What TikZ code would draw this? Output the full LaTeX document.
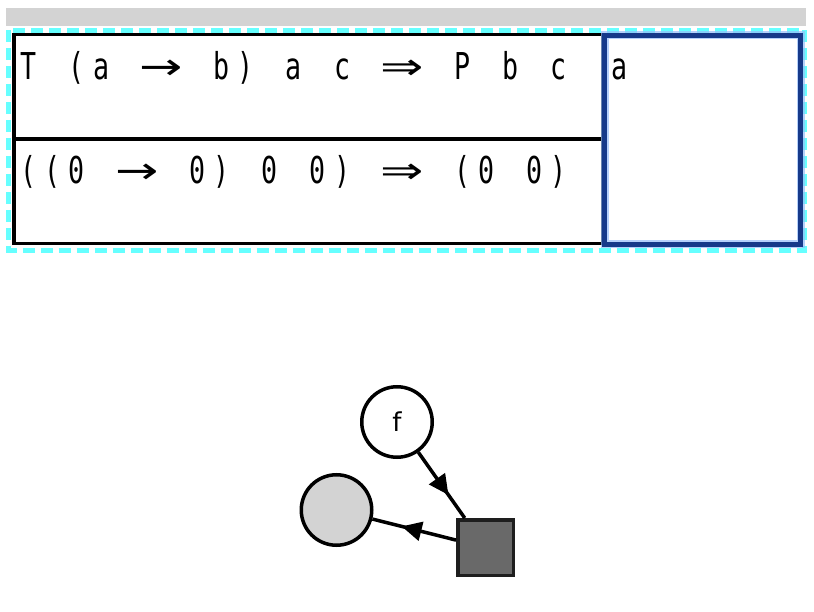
\documentclass[tikz,border=0pt]{standalone}
\usepackage{graphicx}
\usepackage{fontspec}
\setmainfont{DejaVu Sans}
\newfontfamily\monof{DejaVu Sans Mono}
\usetikzlibrary{arrows.meta,decorations.markings}
\definecolor{cyanl}{RGB}{102,255,255}
\definecolor{grayband}{RGB}{211,211,211}
\definecolor{blued}{RGB}{22,58,138}
\definecolor{bluel}{RGB}{150,190,250}
\definecolor{gcirc}{RGB}{211,211,211}
\definecolor{sqfill}{RGB}{105,105,105}
\definecolor{sqline}{RGB}{30,30,30}
\newlength\cw \setlength\cw{24.1pt}
\newcommand\cc[1]{\makebox[\cw][c]{\scalebox{0.72}[1]{#1}}}
\newcommand\ca[1]{\makebox[2\cw][c]{\scalebox{1.4}[1]{\rmfamily #1}}}
\tikzset{
  rowtxt/.style={inner sep=0pt, anchor=base west, font=\monof\fontsize{37}{44}\selectfont},
  circnode/.style={circle, draw=black, line width=3.5pt, minimum size=70.5pt, inner sep=0pt, fill=white, font=\fontsize{26}{30}\selectfont},
  sqnode/.style={rectangle, draw=sqline, line width=3.5pt, minimum size=55.5pt, inner sep=0pt, fill=sqfill},
  edge/.style={line width=3.5pt, draw=black, postaction={decorate},
    decoration={markings, mark=at position 0.65 with {\arrow{Triangle[length=20pt,width=19pt]}}}},
}
\begin{document}
\begin{tikzpicture}[x=1pt,y=-1pt]
\useasboundingbox (0,0) rectangle (814,612);
% top band
\fill[grayband] (6,8) rectangle (806,26);
% cyan dashed frame
\draw[cyanl, line width=5pt, dash pattern=on 12pt off 6pt] (8.5,30.5) rectangle (804.5,250.5);
% black table
\draw[line width=3.4pt] (14,34.8) rectangle (603,243.3);
\draw[line width=3.4pt] (14,139) -- (603,139);
% blue box
\draw[bluel, line width=8pt, opacity=0.7] (604.5,35.5) rectangle (800.5,244.5);
\draw[blued, line width=5pt] (604.5,35.5) rectangle (800.5,244.5);
% texts
\node[rowtxt] (r1) at (16.5,80) {\cc{T}\cc{}\cc{(}\cc{a}\cc{}\ca{→}\cc{}\cc{b}\cc{)}\cc{}\cc{a}\cc{}\cc{c}\cc{}\ca{⇒}\cc{}\cc{P}\cc{}\cc{b}\cc{}\cc{c}};
\node[rowtxt] (r2) at (16.5,184) {\cc{(}\cc{(}\cc{0}\cc{}\ca{→}\cc{}\cc{0}\cc{)}\cc{}\cc{0}\cc{}\cc{0}\cc{)}\cc{}\ca{⇒}\cc{}\cc{(}\cc{0}\cc{}\cc{0}\cc{)}};
\node[rowtxt] (ra) at (611,80) {\scalebox{0.72}[1]{a}};
% graph
\node[circnode] (f) at (397,422) {f};
\node[circnode, fill=gcirc] (g) at (336.5,510) {};
\node[sqnode] (s) at (485.5,547.5) {};
\draw[edge] (f) -- (s);
\draw[edge] (s) -- (g);
\end{tikzpicture}
\end{document}
